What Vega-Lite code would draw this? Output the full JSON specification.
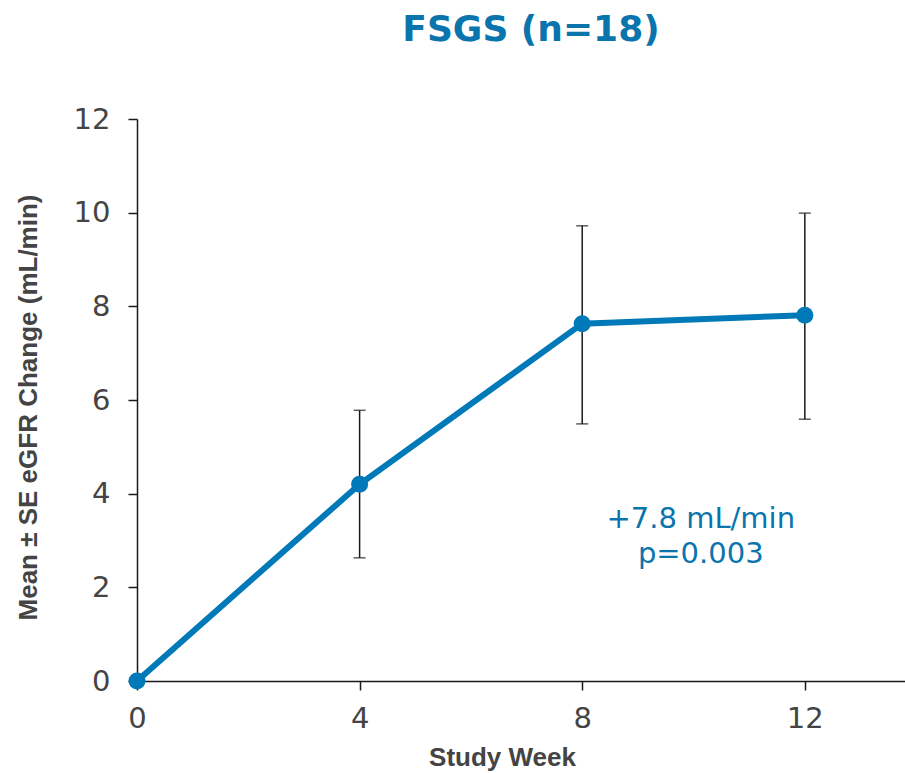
{
  "$schema": "https://vega.github.io/schema/vega-lite/v6.json",
  "width": 768,
  "height": 562,
  "autosize": "none",
  "padding": {"left": 137, "top": 119, "right": 0, "bottom": 92},
  "background": "white",
  "title": {
    "text": "FSGS (n=18)",
    "font": "DejaVu Sans",
    "fontSize": 36,
    "fontWeight": "bold",
    "color": "#0a74ad",
    "anchor": "middle",
    "dx": 10,
    "offset": 56
  },
  "config": {
    "view": {"stroke": null},
    "axis": {
      "grid": false,
      "domainColor": "#1a1a1a",
      "domainWidth": 1.5,
      "tickColor": "#1a1a1a",
      "tickWidth": 1.5,
      "tickSize": 9,
      "labelFont": "DejaVu Sans",
      "labelFontSize": 29,
      "labelColor": "#444444",
      "labelFlush": false,
      "titleFont": "Liberation Sans",
      "titleFontSize": 26,
      "titleFontWeight": "bold",
      "titleColor": "#444444"
    }
  },
  "data": {
    "values": [
      {"week": 0, "mean": 0, "lo": null, "hi": null},
      {"week": 4, "mean": 4.2, "lo": 2.63, "hi": 5.78},
      {"week": 8, "mean": 7.63, "lo": 5.49, "hi": 9.72},
      {"week": 12, "mean": 7.81, "lo": 5.59, "hi": 9.99}
    ]
  },
  "encoding": {
    "x": {
      "field": "week",
      "type": "quantitative",
      "scale": {"domain": [0, 13.8], "nice": false, "zero": false},
      "axis": {"values": [0, 4, 8, 12], "title": "Study Week", "labelPadding": 14, "titlePadding": 11, "titleX": 365}
    }
  },
  "layer": [
    {
      "transform": [{"filter": "datum.lo != null"}],
      "mark": {"type": "rule", "color": "#1a1a1a", "strokeWidth": 1.5},
      "encoding": {
        "y": {"field": "lo", "type": "quantitative"},
        "y2": {"field": "hi"}
      }
    },
    {
      "transform": [{"filter": "datum.lo != null"}],
      "mark": {"type": "tick", "orient": "horizontal", "color": "#1a1a1a", "thickness": 1.5, "size": 12},
      "encoding": {"y": {"field": "lo", "type": "quantitative"}}
    },
    {
      "transform": [{"filter": "datum.lo != null"}],
      "mark": {"type": "tick", "orient": "horizontal", "color": "#1a1a1a", "thickness": 1.5, "size": 12},
      "encoding": {"y": {"field": "hi", "type": "quantitative"}}
    },
    {
      "mark": {"type": "line", "color": "#0079b8", "strokeWidth": 6},
      "encoding": {
        "y": {
          "field": "mean",
          "type": "quantitative",
          "scale": {"domain": [0, 12], "nice": false},
          "axis": {"values": [0, 2, 4, 6, 8, 10, 12], "title": "Mean ± SE eGFR Change (mL/min)", "labelPadding": 18, "titlePadding": 32, "titleY": 288}
        }
      }
    },
    {
      "mark": {"type": "point", "shape": "circle", "filled": true, "opacity": 1, "color": "#0079b8", "size": 290},
      "encoding": {"y": {"field": "mean", "type": "quantitative"}}
    },
    {
      "data": {"values": [
        {"tx": 10.13, "ty": 3.45, "label": "+7.8 mL/min"},
        {"tx": 10.13, "ty": 2.71, "label": "p=0.003"}
      ]},
      "mark": {"type": "text", "font": "DejaVu Sans", "fontSize": 29, "color": "#0a74ad", "align": "center", "baseline": "middle"},
      "encoding": {
        "x": {"field": "tx", "type": "quantitative"},
        "y": {"field": "ty", "type": "quantitative"},
        "text": {"field": "label"}
      }
    }
  ]
}
